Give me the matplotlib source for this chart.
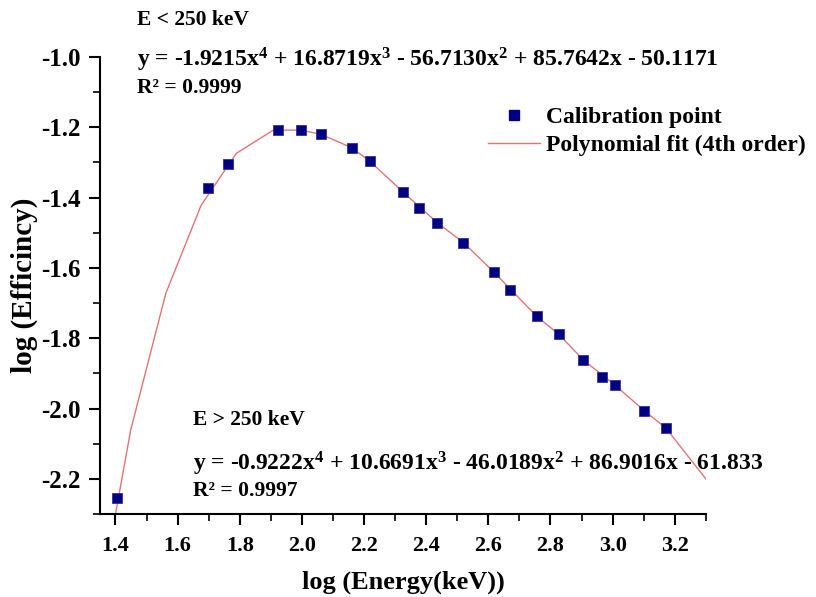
import matplotlib
matplotlib.use("Agg")
import matplotlib.pyplot as plt
from matplotlib.ticker import MultipleLocator
from matplotlib.lines import Line2D

# calibration points
log_energy = [1.405, 1.699, 1.762, 1.924, 1.998, 2.062, 2.160, 2.218, 2.324, 2.376, 2.435,
              2.520, 2.617, 2.669, 2.755, 2.827, 2.906, 2.966, 3.007, 3.102, 3.172]
log_eff = [-2.254, -1.372, -1.305, -1.208, -1.208, -1.219, -1.259, -1.296, -1.383, -1.430, -1.471,
           -1.528, -1.611, -1.663, -1.737, -1.789, -1.862, -1.911, -1.933, -2.006, -2.056]

# fitted curve as drawn (vertices)
fit_x = [1.400, 1.449, 1.562, 1.676, 1.789, 1.908, 1.998, 2.062, 2.160, 2.218, 2.324, 2.435,
         2.520, 2.617, 2.755, 2.827, 2.906, 3.007, 3.102, 3.172, 3.307]
fit_y = [-2.300, -2.061, -1.672, -1.421, -1.274, -1.208, -1.208, -1.220, -1.258, -1.296, -1.383,
         -1.471, -1.528, -1.611, -1.737, -1.789, -1.862, -1.933, -2.006, -2.056, -2.208]

plt.rcParams['font.family'] = ['Liberation Serif', 'DejaVu Serif']
plt.rcParams['font.weight'] = 'bold'
plt.rcParams['mathtext.fontset'] = 'custom'
plt.rcParams['mathtext.rm'] = 'Liberation Serif:bold'
plt.rcParams['mathtext.it'] = 'Liberation Serif:bold'
plt.rcParams['mathtext.bf'] = 'Liberation Serif:bold'

fig = plt.figure(figsize=(8.16, 5.97), dpi=100)
ax = fig.add_axes([0.1225, 0.139, 0.7425, 0.7655])

line_color = '#e07575'
mark_color = '#000080'

ax.plot(fit_x, fit_y, color=line_color, lw=1.0, zorder=2)
ax.plot(log_energy, log_eff, ls='none', marker='s', ms=6.5, color=mark_color,
        markeredgecolor='#3030a0', markeredgewidth=0.6, zorder=3)

ax.set_xlim(1.35, 3.3)
ax.set_ylim(-2.3, -1.0)
ax.xaxis.set_major_locator(MultipleLocator(0.2))
ax.xaxis.set_minor_locator(MultipleLocator(0.1))
ax.yaxis.set_major_locator(MultipleLocator(0.2))
ax.yaxis.set_minor_locator(MultipleLocator(0.1))
ax.xaxis.set_major_formatter(plt.FuncFormatter(lambda v, p: '%.1f' % v))
ax.yaxis.set_major_formatter(plt.FuncFormatter(lambda v, p: '%.1f' % v))

for s in ['top', 'right']:
    ax.spines[s].set_visible(False)
for s in ['left', 'bottom']:
    ax.spines[s].set_linewidth(1.5)
ax.tick_params(which='major', direction='out', length=8, width=1.5)
ax.tick_params(which='minor', direction='out', length=5, width=1.2)
ax.tick_params(axis='x', which='major', labelsize=16, pad=8)
ax.tick_params(axis='y', which='major', labelsize=18, pad=6)

ax.set_xlabel('log (Energy(keV))', fontsize=19, fontweight='bold', labelpad=10)
ax.set_ylabel('log (Efficincy)', fontsize=21, fontweight='bold', labelpad=2)

# equation annotations
fs = 15.5
fs_eq = 17
fig.text(137 / 816, 1 - 20 / 597, 'E < 250 keV', fontsize=fs, va='center')
fig.text(137 / 816, 1 - 60 / 597,
         r'y = -1.9215x$^{4}$ + 16.8719x$^{3}$ - 56.7130x$^{2}$ + 85.7642x - 50.1171',
         fontsize=fs_eq, va='center')
fig.text(137 / 816, 1 - 88 / 597, 'R² = 0.9999', fontsize=fs, va='center')

fig.text(193 / 816, 1 - 420 / 597, 'E > 250 keV', fontsize=fs, va='center')
fig.text(193 / 816, 1 - 464 / 597,
         r'y = -0.9222x$^{4}$ + 10.6691x$^{3}$ - 46.0189x$^{2}$ + 86.9016x - 61.833',
         fontsize=fs_eq, va='center')
fig.text(193 / 816, 1 - 491 / 597, 'R² = 0.9997', fontsize=fs, va='center')

# legend
handles = [Line2D([], [], ls='none', marker='s', ms=6.5, color=mark_color),
           Line2D([], [], color=line_color, lw=1.0)]
ax.legend(handles, ['Calibration point', 'Polynomial fit (4th order)'],
          loc='upper left', bbox_to_anchor=(476 / 816, 1 - 95 / 597),
          bbox_transform=fig.transFigure, frameon=False, fontsize=17,
          handlelength=2.2, handletextpad=0.25, labelspacing=0.28, borderpad=0)

fig.savefig('out.png', dpi=100)
